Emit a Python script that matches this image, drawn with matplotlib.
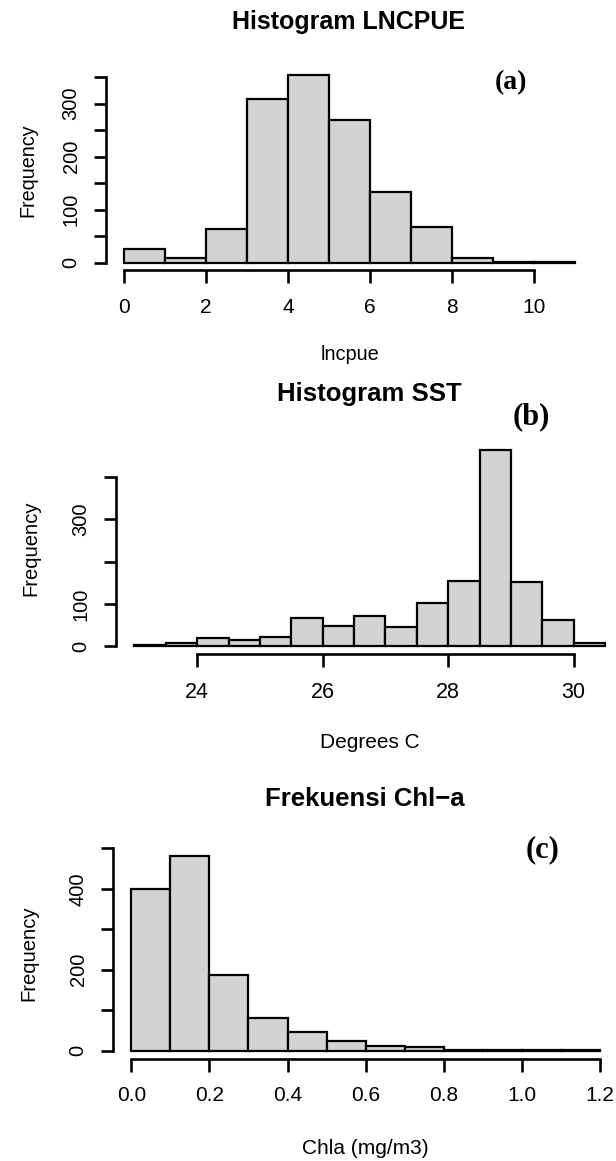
import numpy as np
import matplotlib.pyplot as plt

plt.rcParams['font.family'] = ['Liberation Sans', 'DejaVu Sans']

W, H = 616, 1161

# (a) lncpue
lnc_edges = [0, 1, 2, 3, 4, 5, 6, 7, 8, 9, 10, 11]
lnc_counts = [25, 9, 63, 308, 354, 270, 133, 68, 9, 2, 1]
lnc_xticks = [0, 2, 4, 6, 8, 10]
lnc_yticks = [0, 50, 100, 150, 200, 250, 300, 350]
lnc_ylabels = ['0', '', '100', '', '200', '', '300', '']

# (b) SST
sst_edges = [23.0, 23.5, 24.0, 24.5, 25.0, 25.5, 26.0, 26.5, 27.0, 27.5,
             28.0, 28.5, 29.0, 29.5, 30.0, 30.5]
sst_counts = [3, 9, 20, 14, 21, 68, 49, 72, 45, 103, 155, 465, 152, 62, 9]
sst_xticks = [24, 26, 28, 30]
sst_yticks = [0, 100, 200, 300, 400]
sst_ylabels = ['0', '100', '', '300', '']

# (c) Chl-a
chl_edges = [0.0, 0.1, 0.2, 0.3, 0.4, 0.5, 0.6, 0.7, 0.8, 0.9, 1.0, 1.1, 1.2]
chl_counts = [399, 482, 186, 80, 46, 23, 11, 9, 2, 2, 1, 1]
chl_xticks = [0.0, 0.2, 0.4, 0.6, 0.8, 1.0, 1.2]
chl_xlabels = ['0.0', '0.2', '0.4', '0.6', '0.8', '1.0', '1.2']
chl_yticks = [0, 100, 200, 300, 400, 500]
chl_ylabels = ['0', '', '200', '', '400', '']

fig = plt.figure(figsize=(W / 100, H / 100), dpi=100)


def fx(px):
    return px / W


def fy(py):
    return 1 - py / H


def panel(box, edges, counts, xticks, xlabels, yticks, ylabels, fs_x, fs_y):
    x0, x1, y0, y1 = box
    ax = fig.add_axes([fx(x0), fy(y1), (x1 - x0) / W, (y1 - y0) / H])
    ax.bar(edges[:-1], counts, width=np.diff(edges), align='edge',
           color='#d3d3d3', edgecolor='black', linewidth=1.6)
    rng = edges[-1] - edges[0]
    ax.set_xlim(edges[0] - 0.04 * rng, edges[-1] + 0.04 * rng)
    ymax = max(counts)
    ax.set_ylim(-0.04 * ymax, 1.04 * ymax)
    for s in ['top', 'right']:
        ax.spines[s].set_visible(False)
    ax.spines['left'].set_bounds(yticks[0], yticks[-1])
    ax.spines['bottom'].set_bounds(xticks[0], xticks[-1])
    for s in ['left', 'bottom']:
        ax.spines[s].set_linewidth(1.9)
    ax.set_xticks(xticks, xlabels)
    ax.set_yticks(yticks, ylabels)
    ax.tick_params(axis='both', length=9, width=1.9, colors='black')
    ax.tick_params(axis='x', labelsize=fs_x, pad=11)
    ax.tick_params(axis='y', labelsize=fs_y, labelrotation=90, pad=9)
    for lab in ax.get_yticklabels():
        lab.set_va('center')
    ax.set_facecolor('none')
    return ax


panel((105.7, 593.5, 67.6, 270.2), lnc_edges, lnc_counts,
      lnc_xticks, [str(t) for t in lnc_xticks], lnc_yticks, lnc_ylabels, 15, 14.5)
panel((115.6, 623.9, 441.7, 654.2), sst_edges, sst_counts,
      sst_xticks, [str(t) for t in sst_xticks], sst_yticks, sst_ylabels, 15.5, 14.5)
panel((112.5, 618.8, 847.8, 1058.6), chl_edges, chl_counts,
      chl_xticks, chl_xlabels, chl_yticks, chl_ylabels, 15, 14.5)

# titles
fig.text(fx(349), fy(22.5), 'Histogram LNCPUE', ha='center', va='center',
         fontsize=18, fontweight='bold')
fig.text(fx(369.5), fy(393.5), 'Histogram SST', ha='center', va='center',
         fontsize=18.5, fontweight='bold')
fig.text(fx(365), fy(799), 'Frekuensi Chl\u2212a', ha='center', va='center',
         fontsize=18.5, fontweight='bold')

# panel letters
fig.text(fx(511), fy(83), '(a)', ha='center', va='center', fontsize=20,
         fontweight='bold', family='Liberation Serif')
fig.text(fx(531), fy(416.5), '(b)', ha='center', va='center', fontsize=22,
         fontweight='bold', family='Liberation Serif')
fig.text(fx(543), fy(850), '(c)', ha='center', va='center', fontsize=22,
         fontweight='bold', family='Liberation Serif')

# axis labels
fig.text(fx(350), fy(355), 'lncpue', ha='center', va='center', fontsize=14.4)
fig.text(fx(370), fy(743), 'Degrees C', ha='center', va='center', fontsize=15)
fig.text(fx(365.5), fy(1148), 'Chla (mg/m3)', ha='center', va='center', fontsize=15)
fig.text(fx(27.5), fy(170), 'Frequency', ha='center', va='center', fontsize=14.2,
         rotation=90)
fig.text(fx(30.5), fy(548), 'Frequency', ha='center', va='center', fontsize=14.6,
         rotation=90)
fig.text(fx(28.5), fy(953), 'Frequency', ha='center', va='center', fontsize=14.6,
         rotation=90)

fig.savefig('out.png', dpi=100, facecolor='white')
